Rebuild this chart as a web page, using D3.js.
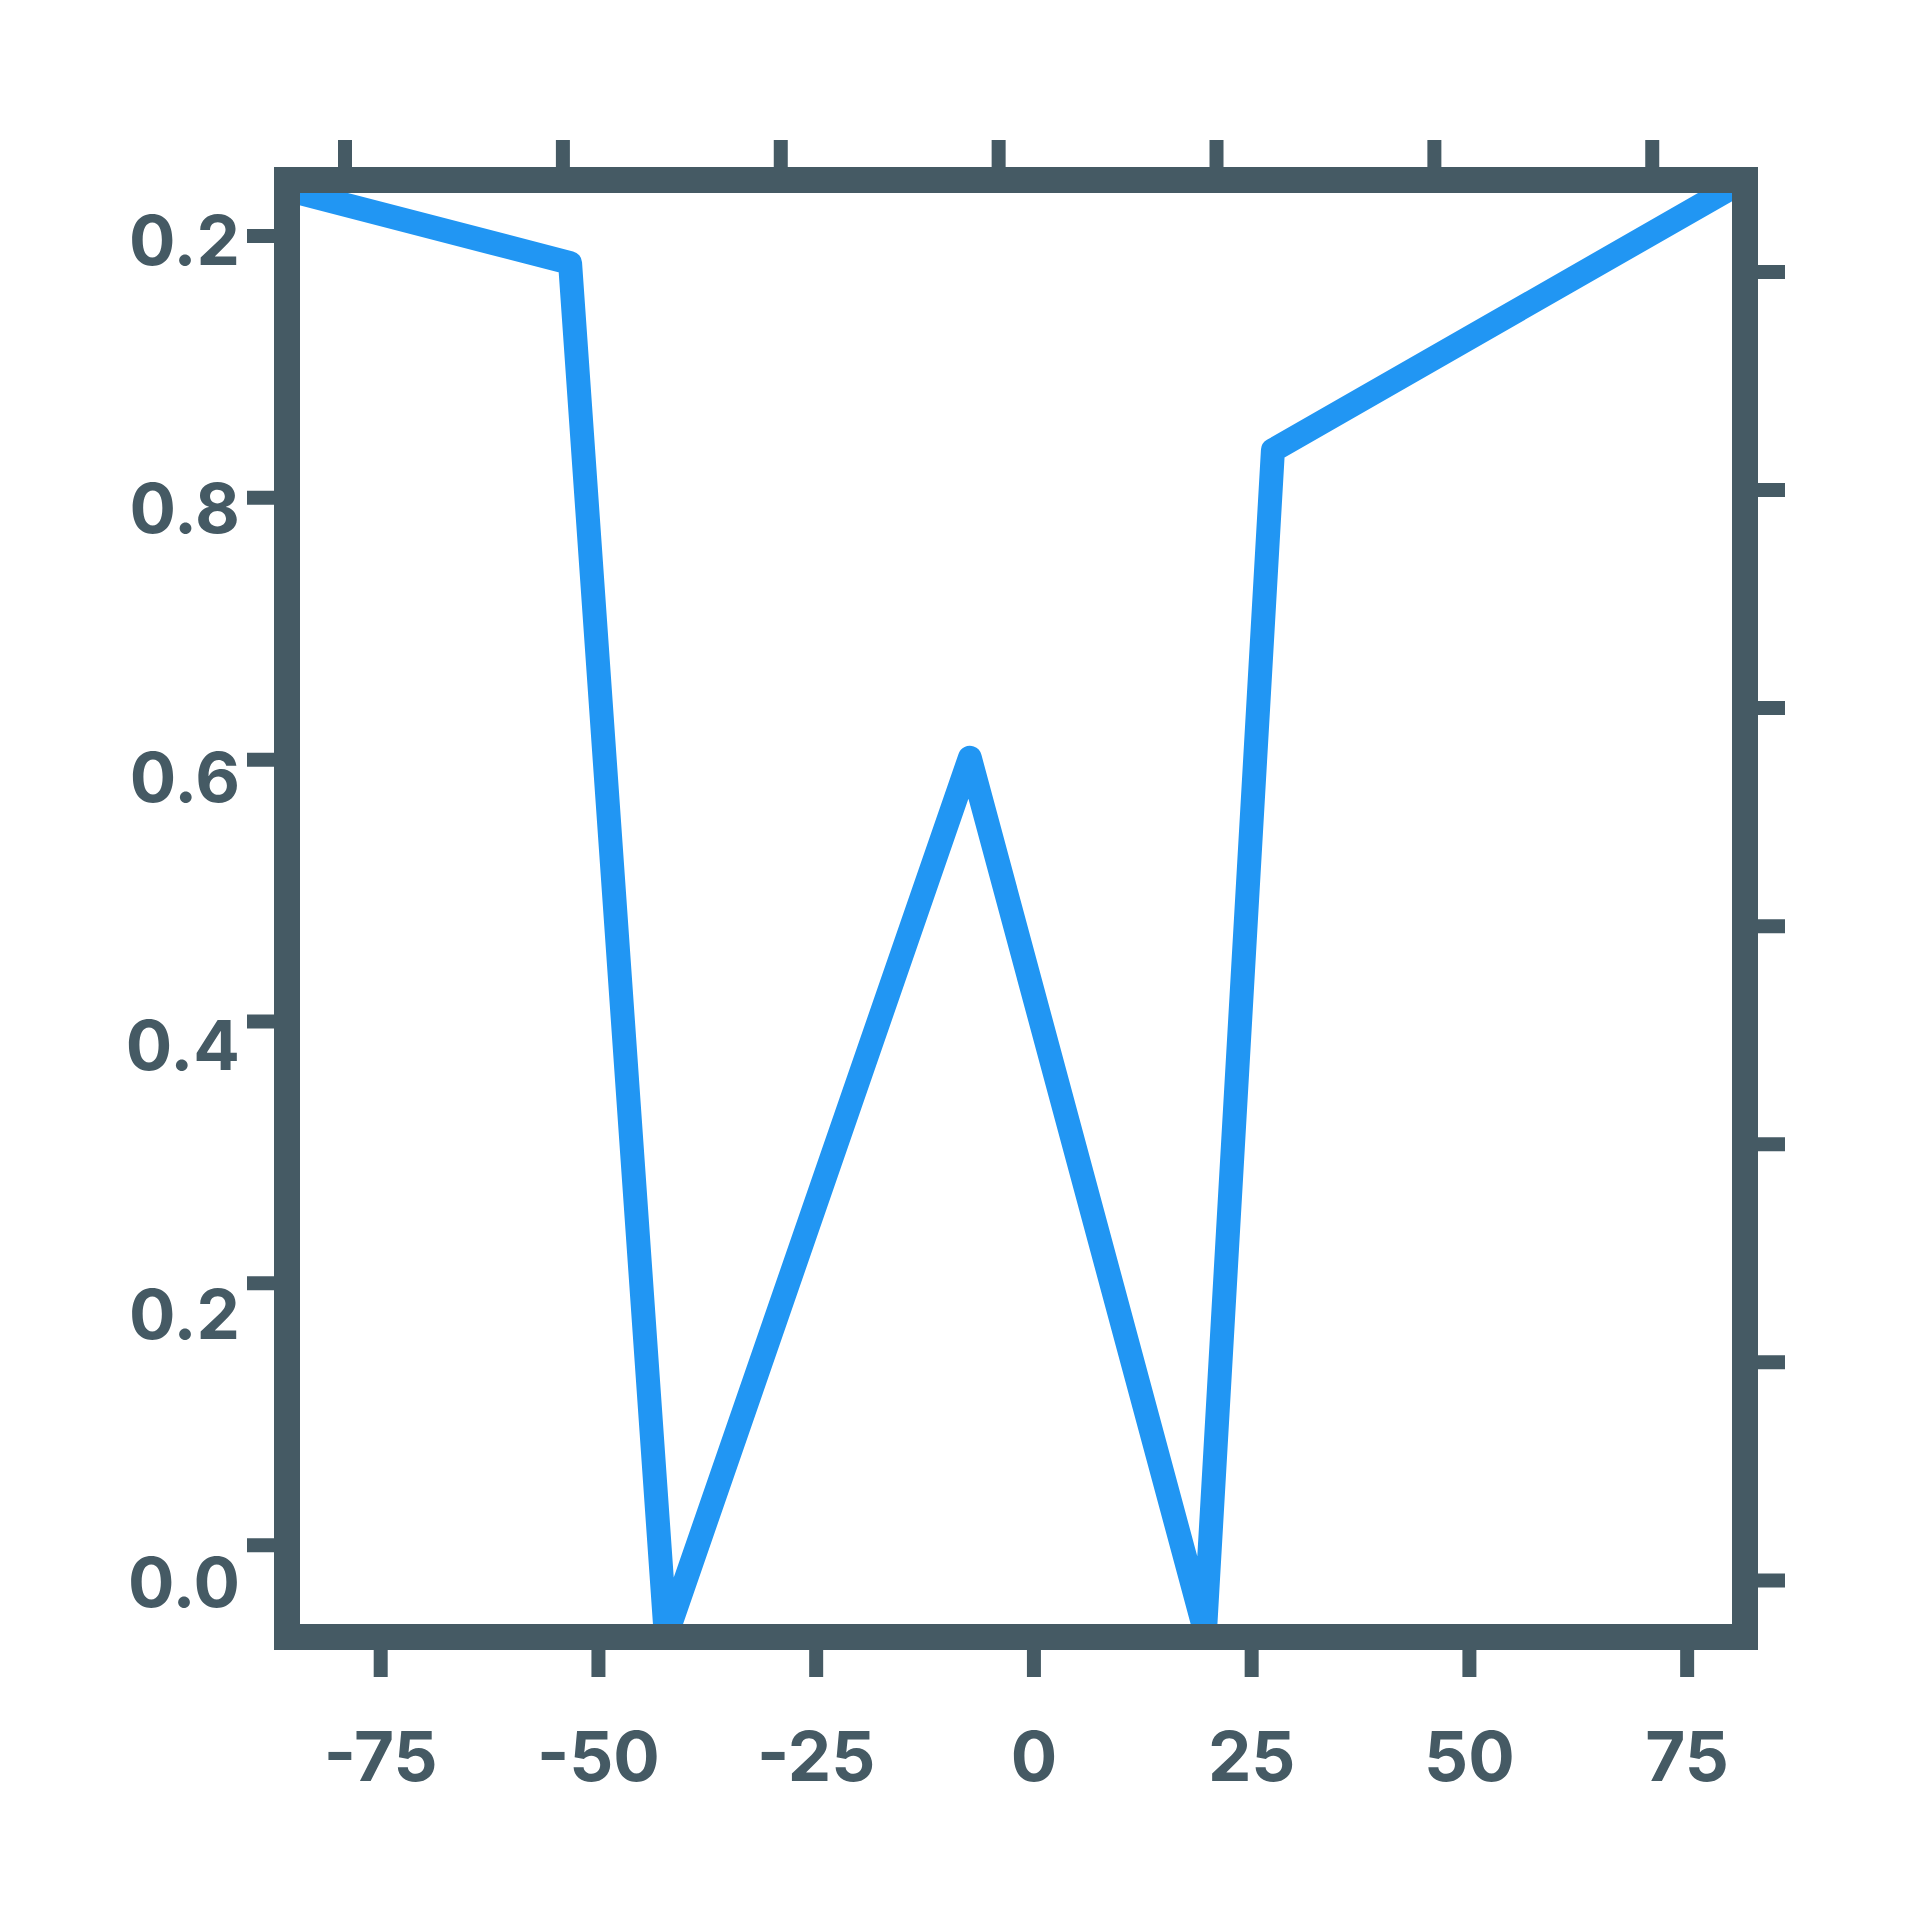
<!DOCTYPE html>
<html>
<head>
<meta charset="utf-8">
<script src="https://cdn.jsdelivr.net/npm/d3@7"></script>
<style>
  html, body { margin: 0; padding: 0; background: #fff; }
  #chart text { font-family: Inter, "Roboto", sans-serif; font-weight: 700; }
</style>
</head>
<body>
<div id="chart"></div>
<script>
// line series
const xValues = [-85.7, -53.2, -42.2, -7.3, 19.7, 27.5, 81.7];
const yValues = [1.035, 0.979, -0.0705, 0.601, -0.066, 0.836, 1.0424];

// bottom axis
const xTicks = [-75, -50, -25, 0, 25, 50, 75];
const xTickLabels = ["-75", "-50", "-25", "0", "25", "50", "75"];

// left axis, labels exactly as printed
const yTicks = [0, 0.2, 0.4, 0.6, 0.8, 1.0];
const yTickLabels = ["0.0", "0.2", "0.4", "0.6", "0.8", "0.2"];

// twin axes on top and right, no labels
const topTicks = [-75, -50, -25, 0, 25, 50, 75];
const topDomain = [-81.6, 85.7];
const rightTicks = [0, 0.2, 0.4, 0.6, 0.8, 1.0, 1.2];
const rightDomain = [-0.0523, 1.2838];

const ink = "#455a64";
const blue = "#2196f3";

const width = 1920, height = 1920;
const margin = {top: 180, right: 175, bottom: 283, left: 287};

const svg = d3.select("#chart")
    .append("svg")
    .attr("width", width)
    .attr("height", height);

const x = d3.scaleLinear()
    .domain(d3.extent(xValues))
    .range([margin.left, width - margin.right]);
const y = d3.scaleLinear()
    .domain(d3.extent(yValues))
    .range([height - margin.bottom, margin.top]);
const xTop = d3.scaleLinear()
    .domain(topDomain)
    .range(x.range());
const yRight = d3.scaleLinear()
    .domain(rightDomain)
    .range(y.range());
// the left labels sit on a slightly wider spread than their ticks
const yLabel = d3.scaleLinear()
    .domain([0, 1])
    .range([1582, 239.5]);

// line
const line = d3.line()
    .x((d, i) => x(xValues[i]))
    .y(d => y(d));

svg.append("path")
    .datum(yValues)
    .attr("d", line)
    .attr("fill", "none")
    .attr("stroke", blue)
    .attr("stroke-width", 24)
    .attr("stroke-linejoin", "round");

const styleAxis = g => {
    g.select(".domain").remove();
    g.selectAll(".tick line")
        .attr("stroke", ink)
        .attr("stroke-width", 14);
    g.selectAll(".tick text")
        .attr("fill", ink)
        .style("font-size", "69px");
};

// bottom
svg.append("g")
    .attr("transform", "translate(0," + y.range()[0] + ")")
    .call(d3.axisBottom(x)
        .tickValues(xTicks)
        .tickFormat((d, i) => xTickLabels[i])
        .tickSize(40)
        .tickPadding(55))
    .call(styleAxis);

// left
svg.append("g")
    .attr("transform", "translate(" + x.range()[0] + ",0)")
    .call(d3.axisLeft(y)
        .tickValues(yTicks)
        .tickFormat((d, i) => yTickLabels[i])
        .tickSize(40)
        .tickPadding(7))
    .call(styleAxis)
    .call(g => g.selectAll(".tick text")
        .attr("y", d => yLabel(d) - y(d))
        .attr("dy", "0.36em"));

// top
svg.append("g")
    .attr("transform", "translate(0," + y.range()[1] + ")")
    .call(d3.axisTop(xTop)
        .tickValues(topTicks)
        .tickFormat("")
        .tickSize(40))
    .call(styleAxis);

// right
svg.append("g")
    .attr("transform", "translate(" + x.range()[1] + ",0)")
    .call(d3.axisRight(yRight)
        .tickValues(rightTicks)
        .tickFormat("")
        .tickSize(40))
    .call(styleAxis);

// frame on top of everything
svg.append("rect")
    .attr("x", x.range()[0])
    .attr("y", y.range()[1])
    .attr("width", x.range()[1] - x.range()[0])
    .attr("height", y.range()[0] - y.range()[1])
    .attr("fill", "none")
    .attr("stroke", ink)
    .attr("stroke-width", 26);
</script>
</body>
</html>
